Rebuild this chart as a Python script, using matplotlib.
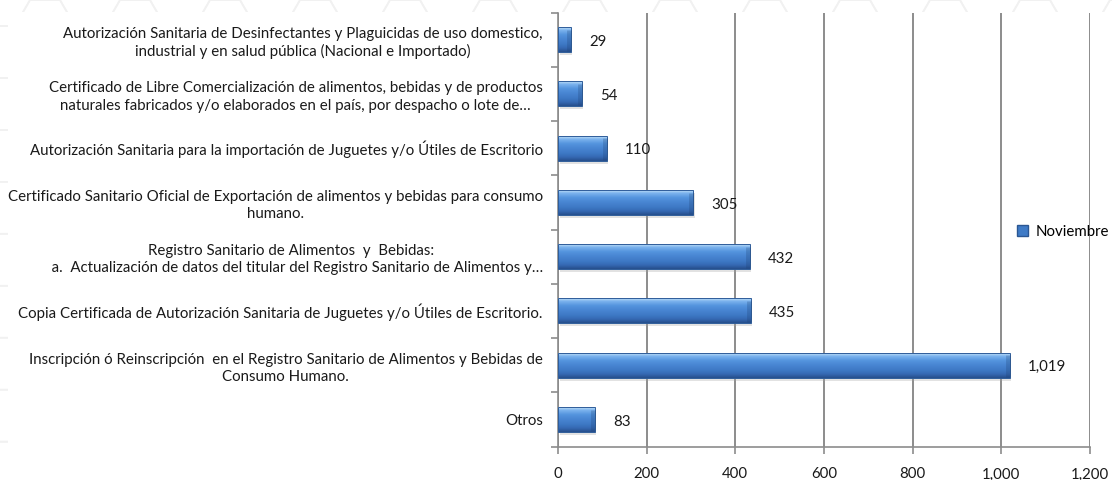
# Horizontal bar chart: tramites del mes de noviembre
import matplotlib
matplotlib.use("Agg")
from matplotlib import pyplot as plt
from matplotlib.patches import Patch, RegularPolygon, FancyBboxPatch
from matplotlib.ticker import FuncFormatter, FixedLocator
import matplotlib.transforms as mtransforms
import numpy as np

plt.rcParams["font.family"] = ["Lato", "DejaVu Sans"]

categories = [
    "Autorización Sanitaria de Desinfectantes y Plaguicidas de uso domestico,\nindustrial y en salud pública (Nacional e Importado)",
    "Certificado de Libre Comercialización de alimentos, bebidas y de productos\nnaturales fabricados y/o elaborados en el país, por despacho o lote de…",
    "Autorización Sanitaria para la importación de Juguetes y/o Útiles de Escritorio",
    "Certificado Sanitario Oficial de Exportación de alimentos y bebidas para consumo\nhumano.",
    "Registro Sanitario de Alimentos  y  Bebidas:\n   a.  Actualización de datos del titular del Registro Sanitario de Alimentos y…",
    "Copia Certificada de Autorización Sanitaria de Juguetes y/o Útiles de Escritorio.",
    "Inscripción ó Reinscripción  en el Registro Sanitario de Alimentos y Bebidas de\nConsumo Humano.",
    "Otros",
]
values = [29, 54, 110, 305, 432, 435, 1019, 83]
series_name = "Noviembre"
x_ticks = [0, 200, 400, 600, 800, 1000, 1200]

W, H = 1112, 480
fig = plt.figure(figsize=(W / 100, H / 100), dpi=100)

# faint honeycomb background + white panel
bg = fig.add_axes([0, 0, 1, 1], zorder=-5)
bg.set_xlim(0, W)
bg.set_ylim(H, 0)
bg.axis("off")
R = 30
for col in range(-1, 26):
    for row in range(-1, 11):
        cx = col * 1.5 * R
        cy = row * np.sqrt(3) * R + (np.sqrt(3) / 2 * R if col % 2 else 0)
        bg.add_patch(RegularPolygon((cx, cy), 6, radius=R, orientation=np.pi / 6,
                                    facecolor="none", edgecolor="#f1f1f1", lw=1.2))
bg.add_patch(FancyBboxPatch((8, 12), W, H, boxstyle="round,pad=0,rounding_size=10",
                            facecolor="white", edgecolor="none"))

ax = fig.add_axes([558 / W, 1 - 446.6 / H, (1090 - 558) / W, (446.6 - 12.5) / H])
ax.patch.set_alpha(0)

n = len(categories)
ypos = np.arange(n)
bar_h = 0.46

# gradient (top highlight, dark bottom) for the bevelled bars
grad_cols = np.array([
    [0.75, 0.87, 0.97],
    [0.48, 0.70, 0.93],
    [0.33, 0.58, 0.87],
    [0.28, 0.52, 0.82],
    [0.24, 0.47, 0.77],
    [0.21, 0.41, 0.70],
    [0.15, 0.31, 0.55],
])
stops = np.array([0, 0.12, 0.3, 0.5, 0.7, 0.85, 1.0])
t = np.linspace(0, 1, 50)
grad = np.stack([np.interp(t, stops, grad_cols[:, k]) for k in range(3)], axis=1)
grad_img = grad[:, None, :]

shadow_tr = ax.transData + mtransforms.ScaledTranslation(1.5 / 100, -3 / 100, fig.dpi_scale_trans)
end_tr = ax.transData + mtransforms.ScaledTranslation(-2 / 100, 0, fig.dpi_scale_trans)
for y, v in zip(ypos, values):
    ax.barh(y, v, height=bar_h, color="#a0a0a0", alpha=0.3, transform=shadow_tr, zorder=2)
    ax.imshow(grad_img, extent=(0, v, y + bar_h / 2, y - bar_h / 2), aspect="auto",
              interpolation="bilinear", zorder=3)
    ax.barh(y, v, height=bar_h, facecolor="none", edgecolor="#2f5d9a", lw=0.7, zorder=4)
    ax.plot([v, v], [y - bar_h / 2 + 0.05, y + bar_h / 2 - 0.02], color="#1d3f70",
            alpha=0.25, lw=3.5, solid_capstyle="butt", transform=end_tr, zorder=4)
    ax.annotate(f"{v:,}", xy=(v, y), xytext=(13, -1.5), textcoords="offset points",
                ha="left", va="center", fontsize=10.8, color="#1a1a1a", zorder=5)

ax.set_xlim(0, 1200)
ax.set_ylim(n - 0.5, -0.5)
ax.set_xticks(x_ticks)
ax.xaxis.set_major_formatter(FuncFormatter(lambda x, p: f"{int(x):,}"))
ax.set_yticks(ypos)
ax.set_yticklabels(categories, fontsize=10.8, multialignment="center", color="#1a1a1a",
                   linespacing=1.3)
ax.yaxis.set_minor_locator(FixedLocator(np.arange(-0.5, n, 1.0)))
ax.tick_params(axis="y", which="major", length=0, pad=11)
ax.tick_params(axis="y", which="minor", length=5, color="#8c8c8c", width=1.2)
ax.tick_params(axis="x", length=5, color="#8c8c8c", width=1.2, labelsize=10.8, pad=10,
               labelcolor="#1a1a1a")

ax.grid(axis="x", color="#8c8c8c", lw=1.4, zorder=1)
ax.set_axisbelow(True)
for s in ["top", "right"]:
    ax.spines[s].set_visible(False)
for s in ["left", "bottom"]:
    ax.spines[s].set_color("#8c8c8c")
    ax.spines[s].set_linewidth(1.2)

fig.legend(handles=[Patch(facecolor="#3f7bc6", edgecolor="#2b5793")], labels=[series_name],
           loc="center left", bbox_to_anchor=(1017 / W, 1 - 232 / H), frameon=False,
           handlelength=0.75, handleheight=0.75, handletextpad=0.5, borderpad=0,
           borderaxespad=0, fontsize=10.8)

fig.savefig("out.png", dpi=100)
